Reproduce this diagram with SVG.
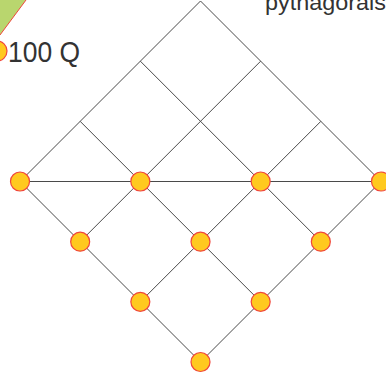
<svg xmlns="http://www.w3.org/2000/svg" width="386" height="378" viewBox="0 0 386 378">
<style>
.ln{stroke:#4a4a4a;stroke-width:1;fill:none}
.nd{fill:#FFC91F;stroke:#F0463C;stroke-width:1.2}
.tx{font-family:"Liberation Sans Narrow","Liberation Sans",Arial,sans-serif;fill:#333}
</style>
<rect width="386" height="378" fill="#fff"/>
<g id="corner">
<polygon points="0,0 26,0 0,35" fill="#B9D66E"/>
<line x1="26" y1="0" x2="0" y2="35" stroke="#F0463C" stroke-width="1"/>
<circle cx="-3" cy="51" r="10" class="nd"/>
</g>
<g id="label-100q"><text class="tx" x="8" y="62" font-size="30" textLength="72" lengthAdjust="spacingAndGlyphs">100 Q</text></g>
<g id="label-pyth"><text class="tx" x="265" y="10" font-size="22" textLength="121" lengthAdjust="spacingAndGlyphs">pythagorais</text></g>
<g id="connectors">
<polygon class="ln" points="200.5,1 381,181.5 200.5,362 20,181.5"/>
<line class="ln" x1="20" y1="181.5" x2="381" y2="181.5"/>
<line class="ln" x1="80.17" y1="241.67" x2="260.67" y2="61.17"/>
<line class="ln" x1="140.33" y1="301.83" x2="320.83" y2="121.33"/>
<line class="ln" x1="80.17" y1="121.33" x2="260.67" y2="301.83"/>
<line class="ln" x1="140.33" y1="61.17" x2="320.83" y2="241.67"/>
</g>
<g id="n1"><circle class="nd" cx="20" cy="181.5" r="9.5"/></g>
<g id="n2"><circle class="nd" cx="140.33" cy="181.5" r="9.5"/></g>
<g id="n3"><circle class="nd" cx="260.67" cy="181.5" r="9.5"/></g>
<g id="n4"><circle class="nd" cx="381" cy="181.5" r="9.5"/></g>
<g id="n5"><circle class="nd" cx="80.17" cy="241.67" r="9.5"/></g>
<g id="n6"><circle class="nd" cx="200.5" cy="241.67" r="9.5"/></g>
<g id="n7"><circle class="nd" cx="320.83" cy="241.67" r="9.5"/></g>
<g id="n8"><circle class="nd" cx="140.33" cy="301.83" r="9.5"/></g>
<g id="n9"><circle class="nd" cx="260.67" cy="301.83" r="9.5"/></g>
<g id="n10"><circle class="nd" cx="200.5" cy="362" r="9.5"/></g>
</svg>
